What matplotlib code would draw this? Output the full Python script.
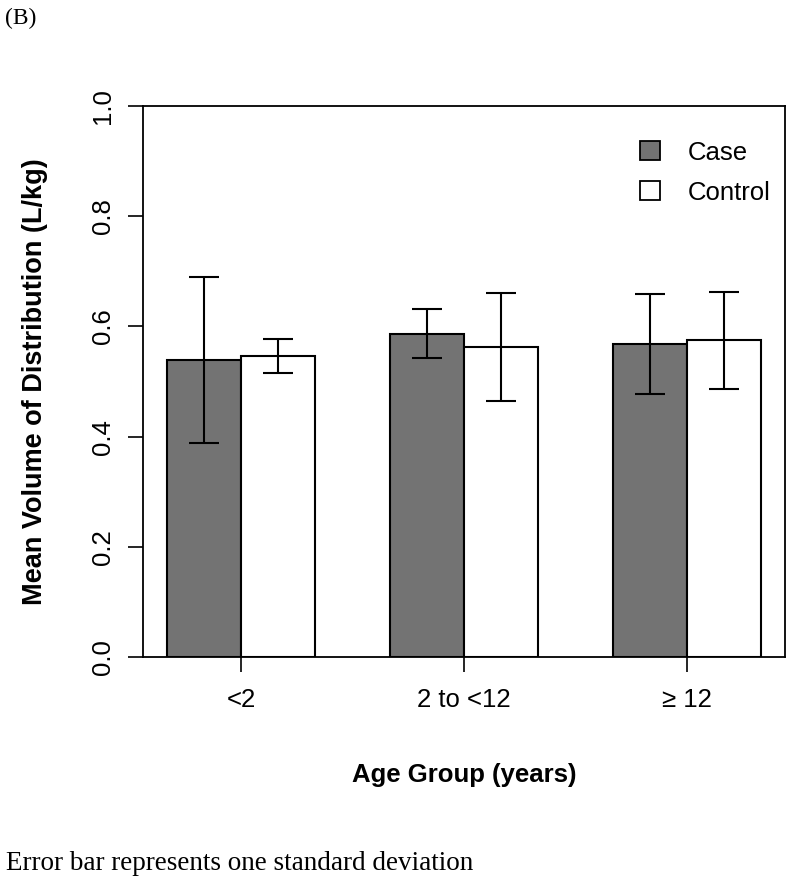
import matplotlib
matplotlib.use("Agg")
import matplotlib.pyplot as plt
from matplotlib.patches import Rectangle
import numpy as np

categories = ["<2", "2 to <12", "\u2265 12"]
case_mean = [0.539, 0.587, 0.568]
case_sd = [0.150, 0.045, 0.090]
control_mean = [0.547, 0.562, 0.575]
control_sd = [0.031, 0.098, 0.088]

case_color = "#737373"
control_color = "#ffffff"

fig = plt.figure(figsize=(8.0, 8.91), dpi=100)
ax = fig.add_axes([143/800, 1-657/891, (785-143)/800, (657-106)/891])

# R barplot layout: bar width 1, group spacing 1
group_starts = np.array([1, 4, 7])
case_x = group_starts + 0.5
ctrl_x = group_starts + 1.5

ax.bar(case_x, case_mean, width=1.0, color=case_color, edgecolor="black", linewidth=1.5, zorder=2)
ax.bar(ctrl_x, control_mean, width=1.0, color=control_color, edgecolor="black", linewidth=1.5, zorder=2)
ax.errorbar(case_x, case_mean, yerr=case_sd, fmt="none", ecolor="black", elinewidth=1.5, capsize=10.5, capthick=1.5, zorder=3)
ax.errorbar(ctrl_x, control_mean, yerr=control_sd, fmt="none", ecolor="black", elinewidth=1.5, capsize=10.5, capthick=1.5, zorder=3)

ax.set_xlim(0.68, 9.32)
ax.set_ylim(0, 1.0)

ax.set_xticks(group_starts + 1)
ax.set_xticklabels(categories, fontsize=18.5, family=["Liberation Sans", "DejaVu Sans"])
ax.set_yticks([0.0, 0.2, 0.4, 0.6, 0.8, 1.0])
ax.set_yticklabels(["0.0", "0.2", "0.4", "0.6", "0.8", "1.0"], fontsize=18.5, family="Liberation Sans",
                   rotation=90, va="center")
ax.tick_params(axis="x", length=11, width=1.2, pad=11)
ax.tick_params(axis="y", length=11, width=1.2, pad=9)
for s in ax.spines.values():
    s.set_linewidth(1.3)

ax.set_xlabel("Age Group (years)", fontsize=18.5, fontweight="bold", family="Liberation Sans", labelpad=37)
ax.set_ylabel("Mean Volume of Distribution (L/kg)", fontsize=19.5, fontweight="bold", family="Liberation Sans", labelpad=31)

handles = [Rectangle((0, 0), 1, 1, facecolor=case_color, edgecolor="black", linewidth=1.3),
           Rectangle((0, 0), 1, 1, facecolor=control_color, edgecolor="black", linewidth=1.3)]
leg = ax.legend(handles, ["Case", "Control"], loc="upper right", frameon=False,
                prop={"family": "Liberation Sans", "size": 18.5},
                handlelength=0.75, handleheight=0.75, handletextpad=1.1, labelspacing=0.62,
                bbox_to_anchor=(1.014, 0.979))

fig.text(5/800, 1-18/891, "(B)", fontsize=17, family="Liberation Serif", va="center", ha="left")
fig.text(6/800, 1-864/891, "Error bar represents one standard deviation", fontsize=19.5,
         family="Liberation Serif", va="center", ha="left")

fig.savefig("out.png", dpi=100)
